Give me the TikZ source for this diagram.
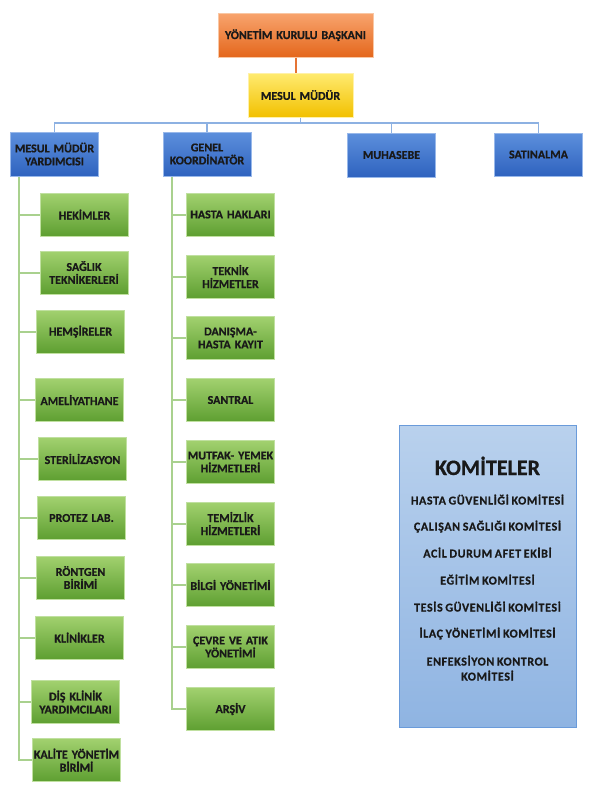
\documentclass[tikz,border=0pt]{standalone}
\usepackage{fontspec}
\setmainfont{Carlito}
\newfontfamily\boxfont[WordSpace=0.6,BoldFeatures={FakeBold=0.6}]{Carlito}
\newfontfamily\komfont[LetterSpace=5,WordSpace=0.8,BoldFeatures={FakeBold=0.6}]{Carlito}
\definecolor{otop}{HTML}{F8A46E}
\definecolor{obot}{HTML}{E4671C}
\definecolor{obrd}{HTML}{F9C7A4}
\definecolor{ytop}{HTML}{FFEB70}
\definecolor{ybot}{HTML}{F2C000}
\definecolor{ybrd}{HTML}{FFF1A8}
\definecolor{btop}{HTML}{5C8FDC}
\definecolor{bbot}{HTML}{2F63BF}
\definecolor{bbrd}{HTML}{98B8EA}
\definecolor{gtop}{HTML}{A2D16F}
\definecolor{gbot}{HTML}{5E9F31}
\definecolor{gbrd}{HTML}{C0E0A0}
\definecolor{ktop}{HTML}{B9D1ED}
\definecolor{kbot}{HTML}{8FB4E2}
\definecolor{kbrd}{HTML}{6A9BDA}
\definecolor{bline}{HTML}{8DB1E2}
\definecolor{gline}{HTML}{A9D18E}
\definecolor{oline}{HTML}{E57435}
\begin{document}
\begin{tikzpicture}[x=1pt,y=-1pt,
  basebox/.style={inner sep=1pt, line width=1pt, align=center, text=black!90,
    font=\boxfont\bfseries\fontsize{12}{13}\selectfont, minimum width=87pt, minimum height=43pt, text width=86pt},
  obox/.style={basebox, top color=otop, bottom color=obot, draw=obrd},
  ybox/.style={basebox, top color=ytop, bottom color=ybot, draw=ybrd},
  bbox/.style={basebox, top color=btop, bottom color=bbot, draw=bbrd},
  gbox/.style={basebox, top color=gtop, bottom color=gbot, draw=gbrd},
  kbox/.style={top color=ktop, bottom color=kbot, draw=kbrd, line width=0.8pt, inner sep=0pt},
  ktxt/.style={anchor=base, font=\komfont\bfseries\fontsize{12}{13}\selectfont, text=black!90, align=center},
  bl/.style={draw=bline, line width=1.6pt},
  gl/.style={draw=gline, line width=2pt},
  ol/.style={draw=oline, line width=2pt}]
\useasboundingbox (0,0) rectangle (595,793);
% top
\node[obox, minimum width=155pt, text width=152pt, minimum height=44pt] (ykb) at (295.5,35) {YÖNETİM KURULU BAŞKANI};
\node[ybox, minimum width=105pt, text width=102pt, minimum height=44pt] (mm) at (300.5,95) {MESUL MÜDÜR};
\draw[ol] (ykb.south) -- (ykb.south |- mm.north);
% second level
\node[bbox, minimum height=44pt] (mmy) at (54.5,154) {MESUL MÜDÜR\\YARDIMCISI};
\node[bbox, minimum width=88pt, minimum height=44pt] (gk) at (207,154) {GENEL\\KOORDİNATÖR};
\node[bbox, minimum height=44pt] (muh) at (391.5,155) {MUHASEBE};
\node[bbox, minimum height=43pt] (sat) at (538.5,154.5) {SATINALMA};
\coordinate (bus) at (300,123);
\draw[bl] (mm.south) -- (mm.south |- bus);
\draw[bl] (mmy.north) |- (bus) -| (sat.north);
\draw[bl] (gk.north) -- (gk.north |- bus);
\draw[bl] (muh.north) -- (muh.north |- bus);
% left column
\node[gbox] (hek) at (84.5,214.5) {HEKİMLER};
\node[gbox] (sag) at (84,272.5) {SAĞLIK\\TEKNİKERLERİ};
\node[gbox] (hem) at (80.5,331.5) {HEMŞİRELER};
\node[gbox] (ame) at (79.5,400) {AMELİYATHANE};
\node[gbox] (ste) at (82.5,459) {STERİLİZASYON};
\node[gbox] (pro) at (81.5,518) {PROTEZ LAB.};
\node[gbox] (ron) at (80.5,577.5) {RÖNTGEN\\BİRİMİ};
\node[gbox] (kli) at (79.5,637.5) {KLİNİKLER};
\node[gbox] (dis) at (75.5,702) {DİŞ KLİNİK\\YARDIMCILARI};
\node[gbox] (kal) at (76.5,760) {KALİTE YÖNETİM\\BİRİMİ};
\coordinate (lt) at ([xshift=9pt]mmy.south west);
\draw[gl] (lt) |- (kal.west);
\foreach \n in {hek,sag,hem,ame,ste,pro,ron,kli,dis}
  \draw[gl] (lt |- \n.west) -- (\n.west);
% right column
\node[gbox] (hh) at (230.5,214.5) {HASTA HAKLARI};
\node[gbox] (tek) at (230.5,276.5) {TEKNİK\\HİZMETLER};
\node[gbox] (dan) at (230.5,338) {DANIŞMA-\\HASTA KAYIT};
\node[gbox] (san) at (230.5,400) {SANTRAL};
\node[gbox] (mut) at (230.5,462) {MUTFAK- YEMEK\\HİZMETLERİ};
\node[gbox] (tem) at (230.5,523.5) {TEMİZLİK\\HİZMETLERİ};
\node[gbox] (bil) at (230.5,585) {BİLGİ YÖNETİMİ};
\node[gbox] (cev) at (230.5,647) {ÇEVRE VE ATIK\\YÖNETİMİ};
\node[gbox] (ars) at (230.5,709) {ARŞİV};
\coordinate (rt) at ([xshift=9pt]gk.south west);
\draw[gl] (rt) |- (ars.west);
\foreach \n in {hh,tek,dan,san,mut,tem,bil,cev}
  \draw[gl] (rt |- \n.west) -- (\n.west);
% committees
\node[kbox, minimum width=177pt, minimum height=302pt] (kom) at (487.5,576) {};
\node[ktxt, font=\boxfont\bfseries\fontsize{22}{24}\selectfont] (kt) at (487.5,475) {KOMİTELER};
\node[ktxt] (k1) at (487.5,504.5) {HASTA GÜVENLİĞİ KOMİTESİ};
\node[ktxt] (k2) at (487.5,530.5) {ÇALIŞAN SAĞLIĞI KOMİTESİ};
\node[ktxt] (k3) at (487.5,557.5) {ACİL DURUM AFET EKİBİ};
\node[ktxt] (k4) at (487.5,584.5) {EĞİTİM KOMİTESİ};
\node[ktxt] (k5) at (487.5,611.5) {TESİS GÜVENLİĞİ KOMİTESİ};
\node[ktxt] (k6) at (487.5,637.5) {İLAÇ YÖNETİMİ KOMİTESİ};
\node[ktxt] (k7) at (487.5,665.5) {ENFEKSİYON KONTROL};
\node[ktxt] (k8) at (487.5,680.5) {KOMİTESİ};
\end{tikzpicture}
\end{document}
